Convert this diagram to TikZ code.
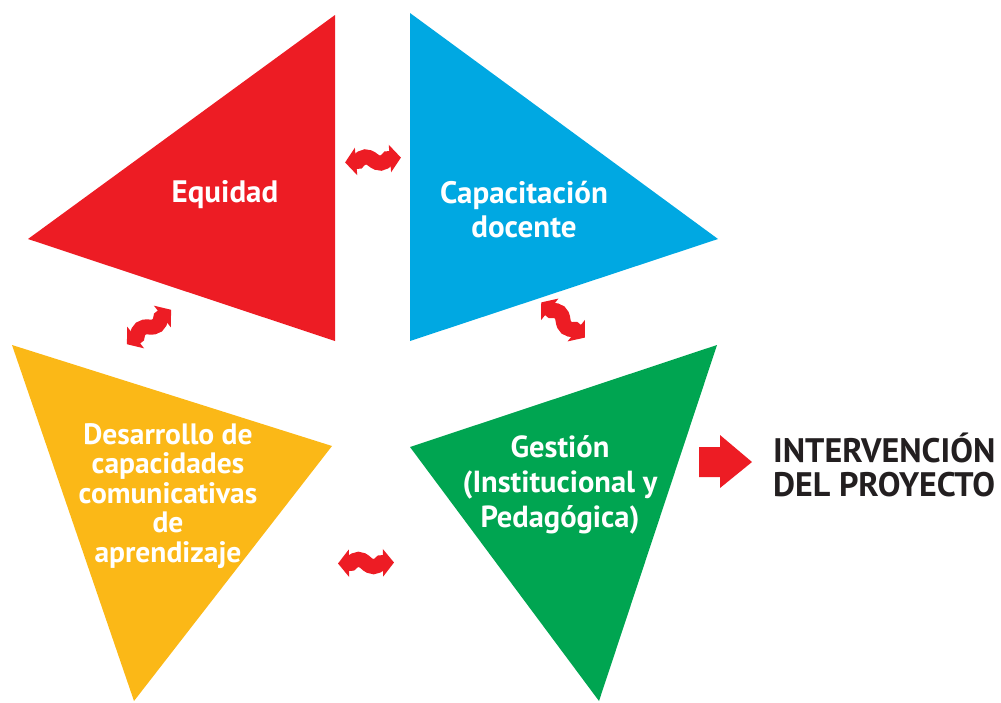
\documentclass[tikz,border=0pt]{standalone}
\usepackage{fontspec}
\setmainfont{PT Sans}
\usetikzlibrary{arrows.meta}
\definecolor{cred}{HTML}{ED1C24}
\definecolor{cblue}{HTML}{00A8E2}
\definecolor{cyellow}{HTML}{FBB817}
\definecolor{cgreen}{HTML}{00A551}
\definecolor{ctext}{HTML}{231F20}
\tikzset{
  lbl/.style={text=white, align=center, inner sep=0pt},
  wavy/.style={draw=cred, line width=15pt, {Triangle[length=11pt,width=27pt]}-{Triangle[length=11pt,width=27pt]}},
}
\begin{document}
\begin{tikzpicture}[x=1pt,y=-1pt]
\useasboundingbox (0,0) rectangle (1001,702);
% triangles
\fill[cred]    (335,15) -- (28,239) -- (335,341) -- cycle;
\fill[cblue]   (410,13) -- (718,239) -- (410,341) -- cycle;
\fill[cyellow] (12,345) -- (332,446) -- (134,701) -- cycle;
\fill[cgreen]  (717,345) -- (410,447) -- (599,701) -- cycle;
% labels
\node[lbl, font=\bfseries\fontsize{31}{34}\selectfont] (equ) at (225,195) {Equidad};
\node[lbl, font=\bfseries\fontsize{31}{34}\selectfont] (cap) at (524,210) {Capacitación\\docente};
\node[lbl, font=\bfseries\fontsize{29.5}{29.5}\selectfont] (des) at (168,496) {Desarrollo de\\capacidades\\comunicativas\\de\\aprendizaje};
\node[lbl, font=\bfseries\fontsize{30.5}{35}\selectfont] (ges) at (560,485) {Gestión\\(Institucional y\\Pedagógica)};
% wavy double arrows
\foreach \n/\cx/\cy/\ang in {w1/373/160/5, w2/149/327/38, w3/563/320/-39, w4/366/563/1}{
  \begin{scope}[shift={(\cx,\cy)}, rotate=\ang]
    \coordinate (\n a) at (-28,0);
    \coordinate (\n b) at (28,0);
    \draw[wavy] (\n a) -- (-15,0) .. controls (-10,-5) and (-5,-5) .. (0,0)
                .. controls (5,5) and (10,5) .. (15,0) -- (\n b);
  \end{scope}
}
% block arrow
\fill[cred] (699,447) -- (720,447) -- (720,435) -- (752,462) -- (720,488)
            -- (720,477) -- (699,477) -- cycle;
\node[anchor=west, text=ctext, font=\bfseries\fontsize{34}{34}\selectfont, align=left, inner sep=0pt] (int) at (773,465) {INTERVENCIÓN\\DEL PROYECTO};
\end{tikzpicture}
\end{document}
